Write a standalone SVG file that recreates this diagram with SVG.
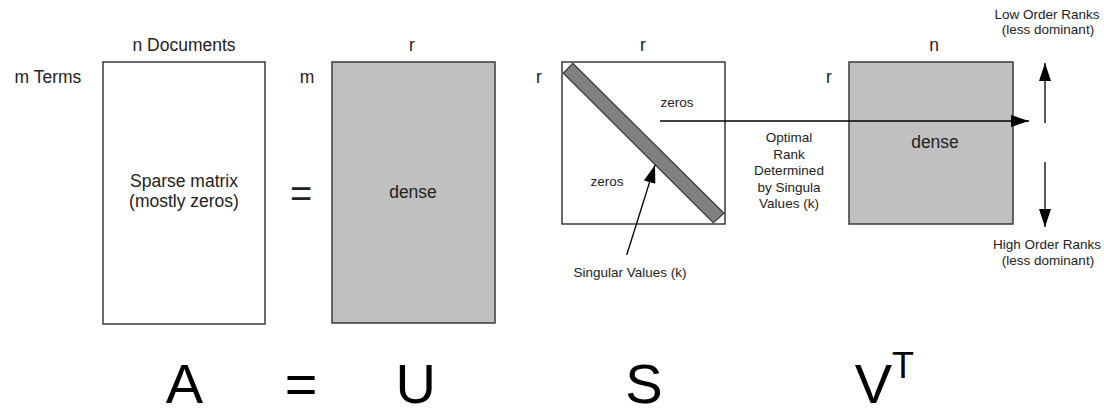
<svg xmlns="http://www.w3.org/2000/svg" width="1104" height="409" viewBox="0 0 1104 409">
<style>
text{font-family:"Liberation Sans",Arial,sans-serif;fill:#222;text-anchor:middle}
.lbl{font-size:17.5px}
.sm{font-size:13.5px}
.big{font-size:56px;fill:#000}
.box{stroke:#3a3a3a;stroke-width:1.5}
.conn{stroke:#000;stroke-width:1.3;fill:none}
</style>
<defs>
<marker id="ah" markerUnits="userSpaceOnUse" markerWidth="18" markerHeight="12" refX="18" refY="6" orient="auto">
<path d="M0,0 L18,6 L0,12 z" fill="#000"/>
</marker>
</defs>
<rect width="1104" height="409" fill="#fff"/>

<g id="matrix-A">
<rect class="box" x="103" y="62" width="162" height="262" fill="#fff"/>
<text class="lbl" x="184" y="51">n Documents</text>
<text class="lbl" x="48" y="83">m Terms</text>
<text class="lbl" x="184" y="187">Sparse matrix</text>
<text class="lbl" x="184" y="207">(mostly zeros)</text>
</g>

<g id="equals-mid">
<text x="301" y="207" style="font-size:38px">=</text>
</g>

<g id="matrix-U">
<rect class="box" x="332" y="62" width="163" height="261" fill="#c0c0c0"/>
<text class="lbl" x="412" y="51">r</text>
<text class="lbl" x="307" y="83">m</text>
<text class="lbl" x="413" y="198">dense</text>
</g>

<g id="matrix-S">
<rect class="box" x="562" y="62" width="163" height="162" fill="#fff"/>
<polygon points="572.7,63.3 724,213.3 713.3,222.7 563.3,73.3" fill="#808080" stroke="#3a3a3a" stroke-width="1.2"/>
<text class="lbl" x="643" y="51">r</text>
<text class="lbl" x="539" y="83">r</text>
<text class="sm" x="677" y="107">zeros</text>
<text class="sm" x="607" y="186">zeros</text>
</g>

<g id="singular-label">
<text class="sm" x="630" y="277">Singular Values (k)</text>
</g>

<g id="optimal-label">
<text class="sm" x="789" y="142">Optimal</text>
<text class="sm" x="789" y="158.5">Rank</text>
<text class="sm" x="789" y="175">Determined</text>
<text class="sm" x="789" y="191.5">by Singula</text>
<text class="sm" x="789" y="208">Values (k)</text>
</g>

<g id="matrix-V">
<rect class="box" x="849" y="62" width="164" height="162" fill="#c0c0c0"/>
<text class="lbl" x="934" y="51">n</text>
<text class="lbl" x="829" y="83">r</text>
<text class="lbl" x="935" y="148">dense</text>
</g>

<g id="rank-labels">
<text class="sm" x="1047" y="19">Low Order Ranks</text>
<text class="sm" x="1048" y="34">(less dominant)</text>
<text class="sm" x="1047" y="249">High Order Ranks</text>
<text class="sm" x="1048" y="265">(less dominant)</text>
</g>

<g id="connectors">
<line class="conn" x1="660" y1="121" x2="1029" y2="121" marker-end="url(#ah)"/>
<line class="conn" x1="626.7" y1="255" x2="655" y2="165" marker-end="url(#ah)"/>
<line class="conn" x1="1045" y1="123" x2="1045" y2="63" marker-end="url(#ah)"/>
<line class="conn" x1="1045" y1="162" x2="1045" y2="227" marker-end="url(#ah)"/>
</g>

<g id="equation">
<text class="big" x="184.5" y="403">A</text>
<text class="big" x="301" y="403">=</text>
<text class="big" x="415.7" y="403">U</text>
<text class="big" x="644" y="403">S</text>
<text class="big" x="873.5" y="403">V</text>
<text x="903" y="378" style="font-size:36px;fill:#000">T</text>
</g>
</svg>
